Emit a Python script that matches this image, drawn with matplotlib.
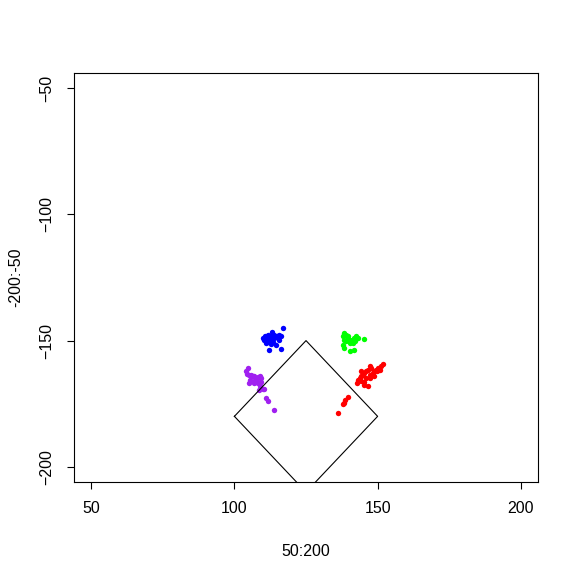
import numpy as np
import matplotlib.pyplot as plt

plt.rcParams['font.family'] = ['Liberation Sans', 'DejaVu Sans']

# home plate outline
plate_x = [100, 125, 150, 125, 100]
plate_y = [-180, -150, -180, -210, -180]

# pitch locations per group
blue_x = [116.8, 113.1, 111.9, 110.7, 110.0, 111.2, 112.4, 113.9, 114.7, 115.7, 116.2, 110.4,
          111.6, 112.7, 113.9, 115.1, 111.0, 112.7, 114.5, 112.1, 116.2, 113.3, 111.6, 115.4]
blue_y = [-145.0, -146.7, -147.6, -148.3, -148.9, -148.5, -148.0, -147.6, -148.0, -147.9, -148.3, -149.9,
          -149.6, -149.3, -148.9, -148.9, -150.9, -151.2, -151.6, -153.6, -153.2, -150.6, -150.6, -149.6]

green_x = [138.4, 137.9, 139.0, 139.6, 140.2, 140.8, 141.4, 141.9, 142.5, 143.1, 141.4,
           140.2, 139.0, 138.4, 137.9, 138.2, 140.2, 141.7, 145.2, 142.2, 139.6]
green_y = [-146.9, -148.3, -147.6, -148.9, -149.6, -150.3, -149.6, -148.9, -148.3, -148.9, -150.9,
           -150.9, -150.3, -149.6, -151.6, -152.9, -154.2, -153.6, -149.2, -150.3, -148.3]

purple_x = [104.7, 103.9, 104.3, 105.0, 105.8, 106.4, 107.0, 107.6, 108.2, 108.8, 109.3, 107.8, 106.7, 105.3,
            105.0, 107.0, 108.2, 109.3, 108.8, 109.9, 110.5, 108.5, 111.1, 111.7, 113.7, 105.8, 107.4]
purple_y = [-160.8, -162.2, -163.1, -163.5, -163.5, -164.2, -163.9, -164.8, -164.4, -164.2, -164.8, -165.8, -165.8, -165.5,
            -166.8, -166.8, -166.8, -166.2, -168.1, -169.2, -169.2, -169.7, -172.7, -174.1, -177.6, -164.2, -166.2]

red_x = [151.9, 151.1, 150.1, 149.5, 148.7, 147.8, 147.2, 146.6, 146.0, 145.4, 144.9, 144.3, 143.7, 143.1, 142.9, 144.3,
         144.3, 145.4, 146.0, 147.2, 148.4, 149.9, 150.7, 146.6, 145.4, 139.6, 138.7, 138.2, 137.9, 136.3, 147.5, 148.9]
red_y = [-159.3, -160.2, -160.8, -161.5, -161.9, -160.8, -160.2, -161.5, -162.2, -162.8, -163.5, -164.2, -164.8, -165.5, -166.8, -161.9,
         -165.9, -166.2, -164.8, -163.5, -162.8, -162.2, -161.5, -168.1, -167.5, -172.5, -173.4, -174.7, -175.1, -178.7, -164.8, -164.2]

fig = plt.figure(figsize=(5.75, 5.74), dpi=100)
ax = fig.add_axes([0.1287, 0.1603, 0.807, 0.7125])

ax.plot(plate_x, plate_y, color='black', lw=0.8)
ax.scatter(blue_x, blue_y, s=15, color='#0000FF', lw=0)
ax.scatter(green_x, green_y, s=15, color='#00FF00', lw=0)
ax.scatter(purple_x, purple_y, s=15, color='#A020F0', lw=0)
ax.scatter(red_x, red_y, s=15, color='#FF0000', lw=0)

ax.set_xlim(44, 206)
ax.set_ylim(-206, -44)
ax.set_xticks([50, 100, 150, 200])
ax.set_yticks([-200, -150, -100, -50])
ax.tick_params(direction='out', length=5, width=0.8, labelsize=11.5, pad=9)
for lab in ax.get_yticklabels():
    lab.set_rotation(90)
    lab.set_va('center')
for s in ax.spines.values():
    s.set_linewidth(0.8)

ax.set_xlabel('50:200', fontsize=11.5, labelpad=20)
ax.set_ylabel('-200:-50', fontsize=11.5, labelpad=12)

plt.savefig('out.png')
